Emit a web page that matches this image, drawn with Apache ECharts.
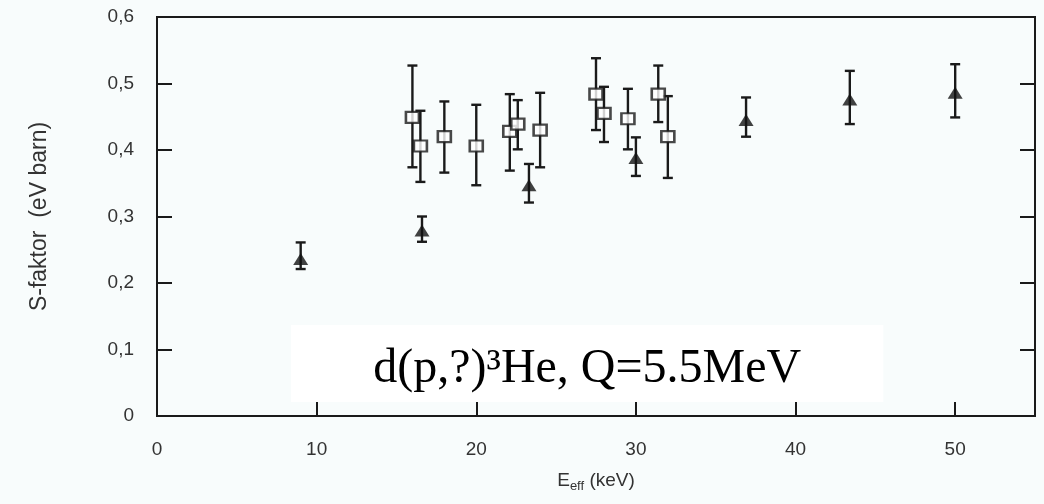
<!DOCTYPE html>
<html><head><meta charset="utf-8">
<script src="https://cdn.jsdelivr.net/npm/echarts@6/dist/echarts.min.js"></script>
<style>html,body{margin:0;padding:0;background:#f8fcfc}#c{width:1044px;height:504px}</style>
</head><body><div id="c"></div>
<script>
// open squares
const squareX  = [16.0, 16.5, 18.0, 20.0, 22.1, 22.6, 24.0, 27.5, 28.0, 29.5, 31.4, 32.0];
const squareY  = [0.449, 0.406, 0.420, 0.406, 0.428, 0.439, 0.430, 0.484, 0.455, 0.447, 0.484, 0.420];
const squareHi = [0.527, 0.459, 0.473, 0.468, 0.484, 0.475, 0.486, 0.538, 0.495, 0.492, 0.527, 0.481];
const squareLo = [0.374, 0.352, 0.366, 0.347, 0.369, 0.401, 0.374, 0.430, 0.412, 0.401, 0.442, 0.358];
// filled triangles
const triX  = [9.0, 16.6, 23.3, 30.0, 36.9, 43.4, 50.0];
const triY  = [0.236, 0.279, 0.347, 0.388, 0.445, 0.476, 0.486];
const triHi = [0.261, 0.300, 0.379, 0.419, 0.479, 0.519, 0.529];
const triLo = [0.221, 0.262, 0.321, 0.361, 0.420, 0.439, 0.449];
const annotation = 'd(p,?)³He, Q=5.5MeV';
const boxCorners = [[8.4, 0.137], [45.5, 0.021]];

const ink = '#1a1a1a';
const txt = '#333';
const labelFont = 'Liberation Sans, Arial, sans-serif';

function errBars(xs, hi, lo) {
  return xs.map((x, i) => [x, hi[i], lo[i]]);
}
function renderErr(params, api) {
  const x = api.value(0);
  const a = api.coord([x, api.value(1)]);
  const b = api.coord([x, api.value(2)]);
  const w = 5;
  const st = { stroke: ink, lineWidth: 2.4 };
  return { type: 'group', children: [
    { type: 'line', shape: { x1: a[0], y1: a[1], x2: b[0], y2: b[1] }, style: st },
    { type: 'line', shape: { x1: a[0] - w, y1: a[1], x2: a[0] + w, y2: a[1] }, style: st },
    { type: 'line', shape: { x1: b[0] - w, y1: b[1], x2: b[0] + w, y2: b[1] }, style: st }
  ]};
}

const chart = echarts.init(document.getElementById('c'));
chart.setOption({
  backgroundColor: '#f8fcfc',
  animation: false,
  grid: { left: 157, right: 9, top: 17, bottom: 88, containLabel: false,
          show: true, borderColor: ink, borderWidth: 2, backgroundColor: 'transparent' },
  xAxis: {
    type: 'value', min: 0, max: 55, interval: 10,
    name: '{e|E}{s|eff}{e| (keV)}', nameLocation: 'middle', nameGap: 55,
    nameTextStyle: { rich: {
      e: { fontFamily: labelFont, fontSize: 19, color: txt, verticalAlign: 'top', lineHeight: 22 },
      s: { fontFamily: labelFont, fontSize: 13, color: txt, verticalAlign: 'bottom', lineHeight: 13, padding: [12, 0, 0, 0] }
    }},
    axisLine: { lineStyle: { color: ink, width: 2 } },
    axisTick: { inside: true, length: 14, lineStyle: { color: ink, width: 2 } },
    axisLabel: { margin: 24, fontFamily: labelFont, fontSize: 19, color: txt, showMaxLabel: false },
    splitLine: { show: false }
  },
  yAxis: [{
    type: 'value', min: 0, max: 0.6, interval: 0.1,
    name: 'S-faktor  (eV barn)', nameLocation: 'middle', nameGap: 106,
    nameTextStyle: { fontFamily: labelFont, fontSize: 23, color: txt },
    axisLine: { lineStyle: { color: ink, width: 2 } },
    axisTick: { inside: true, length: 15, lineStyle: { color: ink, width: 2 } },
    axisLabel: { margin: 23, fontFamily: labelFont, fontSize: 19, color: txt,
                 formatter: v => String(+v.toFixed(1)).replace('.', ',') },
    splitLine: { show: false }
  }, {
    type: 'value', min: 0, max: 0.6, interval: 0.1, position: 'right',
    axisLine: { show: true, lineStyle: { color: ink, width: 2 } },
    axisTick: { inside: true, length: 15, lineStyle: { color: ink, width: 2 } },
    axisLabel: { show: false }, splitLine: { show: false }
  }],
  series: [
    { type: 'custom', renderItem: renderErr, data: errBars(squareX, squareHi, squareLo),
      encode: { x: 0, y: [1, 2] }, z: 2, silent: true },
    { type: 'custom', renderItem: renderErr, data: errBars(triX, triHi, triLo),
      encode: { x: 0, y: [1, 2] }, z: 2, silent: true },
    { type: 'scatter', data: squareX.map((x, i) => [x, squareY[i]]), symbol: 'rect', symbolSize: [13, 11],
      itemStyle: { color: '#ffffff', borderColor: ink, borderWidth: 2.4 }, z: 3,
      markArea: { silent: true, itemStyle: { color: '#ffffff' },
        label: { show: true, position: 'inside', offset: [0, 6], formatter: annotation,
                 fontFamily: 'Liberation Serif, Times New Roman, serif', fontSize: 48, color: '#000' },
        data: [[{ coord: boxCorners[0] }, { coord: boxCorners[1] }]] } },
    { type: 'scatter', data: triX.map((x, i) => [x, triY[i]]), symbol: 'triangle', symbolSize: [15, 12],
      itemStyle: { color: '#111' }, z: 3 }
  ]
});
</script></body></html>
